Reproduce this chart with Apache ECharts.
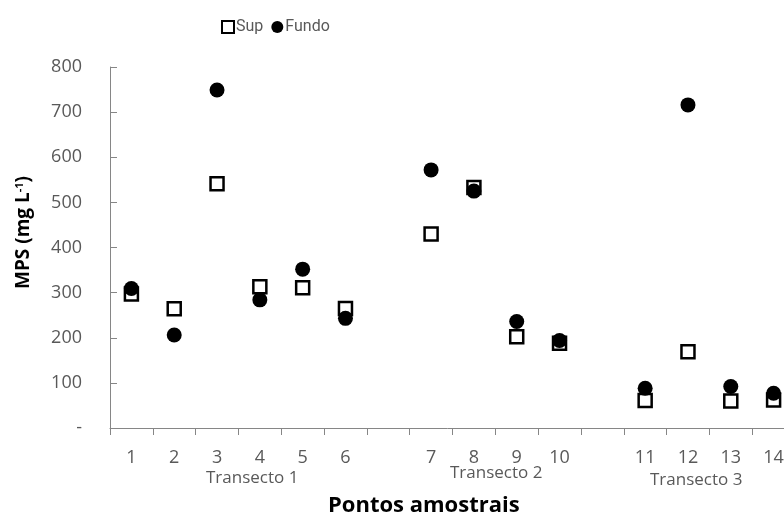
<!DOCTYPE html>
<html>
<head>
<meta charset="utf-8">
<script src="https://cdn.jsdelivr.net/npm/echarts@6/dist/echarts.min.js"></script>
<style>
  html, body { margin: 0; padding: 0; background: #fff; }
  #main { width: 784px; height: 520px; }
</style>
</head>
<body>
<div id="main"></div>
<script>
// pontos amostrais, '' = espaço entre transectos
const pontos = ['1', '2', '3', '4', '5', '6', '', '7', '8', '9', '10', '', '11', '12', '13', '14']
const sup = [297, 264, 541, 313, 311, 265, null, 430, 533, 202, 188, null, 61, 169, 60, 62]
const fundo = [309, 206, 749, 284, 352, 243, null, 572, 525, 236, 194, null, 88, 716, 92, 77]
const yTicks = [0, 800, 100] // min, max, intervalo
const transectos = ['Transecto 1', 'Transecto 2', 'Transecto 3']

const font = 'Open Sans'
const grey = '#595959'
const axisGrey = '#868686'

const chart = echarts.init(document.getElementById('main'))

const option = {
  animation: false,
  textStyle: { fontFamily: font },
  legend: {
    left: 216,
    top: 14,
    itemWidth: 12,
    itemHeight: 12,
    itemGap: 8,
    textStyle: { color: grey, fontSize: 16, fontFamily: 'Roboto', padding: [0, 0, 0, -3] },
    data: [
      { name: 'Sup', icon: 'rect', itemStyle: { color: '#fff', borderColor: '#000', borderWidth: 2 } },
      { name: 'Fundo', icon: 'circle', itemStyle: { color: '#000' } }
    ]
  },
  // a grade passa um pouco da borda direita, como no original
  grid: { left: 110, width: 685, top: 67, bottom: 92, outerBoundsMode: 'none' },
  xAxis: {
    type: 'category',
    data: pontos,
    boundaryGap: true,
    axisLine: { lineStyle: { color: axisGrey, width: 1 } },
    axisTick: { show: true, interval: 0, length: 7, lineStyle: { color: axisGrey } },
    axisLabel: { interval: 0, margin: 21, fontSize: 18, color: grey, fontFamily: font },
    splitLine: { show: false }
  },
  yAxis: {
    type: 'value',
    min: yTicks[0],
    max: yTicks[1],
    interval: yTicks[2],
    axisLine: { show: true, lineStyle: { color: axisGrey, width: 1 } },
    axisTick: { show: true, inside: true, length: 7, lineStyle: { color: axisGrey } },
    axisLabel: {
      margin: 28,
      fontSize: 18,
      color: grey,
      fontFamily: font,
      formatter: v => (v === 0 ? '-' : v)
    },
    splitLine: { show: false }
  },
  graphic: [
    { type: 'text', left: 206, top: 470, style: { text: transectos[0], fontSize: 17, fill: grey, fontFamily: font } },
    { type: 'text', left: 450, top: 465, style: { text: transectos[1], fontSize: 17, fill: grey, fontFamily: font } },
    { type: 'text', left: 650, top: 472, style: { text: transectos[2], fontSize: 17, fill: grey, fontFamily: font } },
    {
      type: 'text', left: 328, top: 495,
      style: { text: 'Pontos amostrais', fontSize: 22, fontWeight: 'bold', fill: '#000', fontFamily: font }
    },
    {
      type: 'text', x: 14, y: 289, rotation: Math.PI / 2,
      style: {
        text: '{a|MPS (mg L}{s|-1}{a|)}',
        fill: '#000',
        fontFamily: font,
        rich: {
          a: { fontSize: 19, fontWeight: 'bold', fontFamily: font, fill: '#000' },
          s: { fontSize: 11, fontWeight: 'bold', fontFamily: font, fill: '#000', verticalAlign: 'top', padding: [0, 0, 8, 0] }
        }
      }
    }
  ],
  series: [
    {
      name: 'Sup',
      type: 'scatter',
      data: sup,
      symbol: 'rect',
      symbolSize: 13,
      itemStyle: { color: '#fff', borderColor: '#000', borderWidth: 2.5, opacity: 1 },
      z: 2
    },
    {
      name: 'Fundo',
      type: 'scatter',
      data: fundo,
      symbol: 'circle',
      symbolSize: 15,
      itemStyle: { color: '#000', opacity: 1 },
      z: 3
    }
  ]
}

chart.setOption(option)
</script>
</body>
</html>
